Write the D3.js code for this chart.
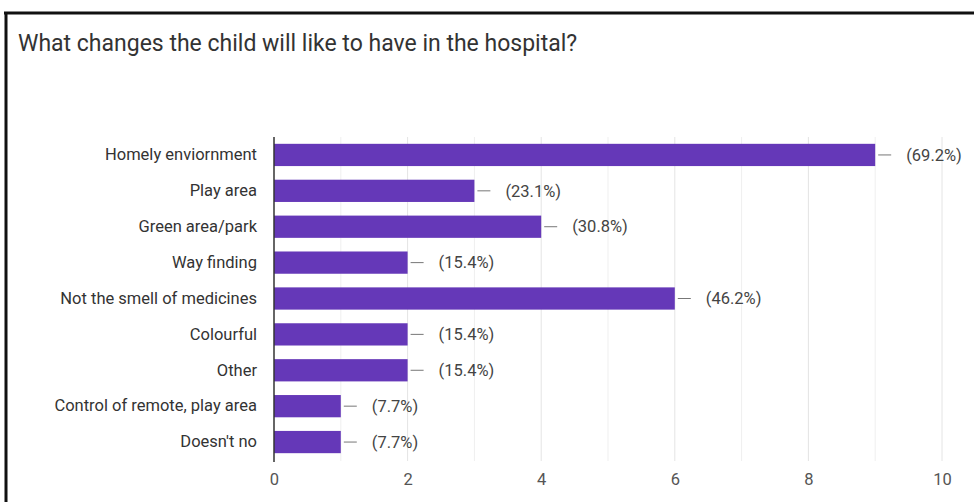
<!DOCTYPE html>
<html>
<head>
<meta charset="utf-8">
<script src="https://cdn.jsdelivr.net/npm/d3@7"></script>
<style>
  body { margin: 0; background: #fff; }
  text { font-family: Roboto, Arial, sans-serif; }
</style>
</head>
<body>
<div id="chart"></div>
<script>
// answers and counts (13 respondents)
var categories = ["Homely enviornment", "Play area", "Green area/park", "Way finding",
    "Not the smell of medicines", "Colourful", "Other", "Control of remote, play area", "Doesn't no"];
var counts = [9, 3, 4, 2, 6, 2, 2, 1, 1];
var percentLabels = ["(69.2%)", "(23.1%)", "(30.8%)", "(15.4%)", "(46.2%)", "(15.4%)", "(15.4%)", "(7.7%)", "(7.7%)"];
var xTicks = [0, 2, 4, 6, 8, 10];

var width = 974, height = 502;

var svg = d3.select("#chart").append("svg")
    .attr("width", width)
    .attr("height", height);

svg.append("rect").attr("width", width).attr("height", height).attr("fill", "#fff");

// screenshot frame (top and left edges only)
svg.append("line").attr("x1", 4).attr("x2", width).attr("y1", 13).attr("y2", 13)
    .attr("stroke", "#111").attr("stroke-width", 3);
svg.append("line").attr("x1", 6).attr("x2", 6).attr("y1", 12).attr("y2", height)
    .attr("stroke", "#111").attr("stroke-width", 3);

svg.append("text")
    .attr("x", 18).attr("y", 51)
    .attr("font-size", 23)
    .attr("fill", "#333")
    .text("What changes the child will like to have in the hospital?");

var x = d3.scaleLinear().domain([0, 10]).range([274, 942]);
var y = d3.scaleBand().domain(categories).range([137, 460]).paddingInner(0.38).paddingOuter(0.19);

// grid lines, one per unit
svg.append("g").selectAll("line")
    .data(d3.range(1, 11))
    .enter().append("line")
    .attr("x1", function(d) { return x(d); })
    .attr("x2", function(d) { return x(d); })
    .attr("y1", 137).attr("y2", 461)
    .attr("stroke", function(d) { return d % 2 === 0 ? "#e4e4e4" : "#efefef"; })
    .attr("stroke-width", 1);

// bottom axis labels
var xAxis = svg.append("g")
    .attr("transform", "translate(0,461)")
    .call(d3.axisBottom(x).tickValues(xTicks).tickSize(0).tickPadding(12));
xAxis.select(".domain").remove();
xAxis.selectAll("text").attr("font-size", 16.5).attr("fill", "#555")
    .attr("font-family", "Roboto, Arial, sans-serif");

// category labels
var yAxis = svg.append("g")
    .attr("transform", "translate(274,0)")
    .call(d3.axisLeft(y).tickSize(0).tickPadding(17));
yAxis.select(".domain").remove();
yAxis.selectAll("text").attr("font-size", 16.5).attr("fill", "#333")
    .attr("font-family", "Roboto, Arial, sans-serif");

var rows = categories.map(function(c, i) {
    return { name: c, value: counts[i], label: percentLabels[i] };
});

svg.selectAll(".bar")
    .data(rows)
    .enter().append("rect")
    .attr("class", "bar")
    .attr("x", x(0))
    .attr("y", function(d) { return y(d.name); })
    .attr("width", function(d) { return x(d.value) - x(0); })
    .attr("height", y.bandwidth())
    .attr("fill", "#6538b8");

// leader lines
svg.selectAll(".leader")
    .data(rows)
    .enter().append("line")
    .attr("x1", function(d) { return x(d.value) + 3; })
    .attr("x2", function(d) { return x(d.value) + 16; })
    .attr("y1", function(d) { return y(d.name) + y.bandwidth() / 2; })
    .attr("y2", function(d) { return y(d.name) + y.bandwidth() / 2; })
    .attr("stroke", "#777").attr("stroke-width", 1);

svg.selectAll(".pct")
    .data(rows)
    .enter().append("text")
    .attr("x", function(d) { return x(d.value) + 31; })
    .attr("y", function(d) { return y(d.name) + y.bandwidth() / 2; })
    .attr("dy", "0.35em")
    .attr("font-size", 16.5)
    .attr("fill", "#444")
    .text(function(d) { return d.label; });

// zero axis line
svg.append("line")
    .attr("x1", x(0)).attr("x2", x(0))
    .attr("y1", 137).attr("y2", 462)
    .attr("stroke", "#333").attr("stroke-width", 1.5);
</script>
</body>
</html>
